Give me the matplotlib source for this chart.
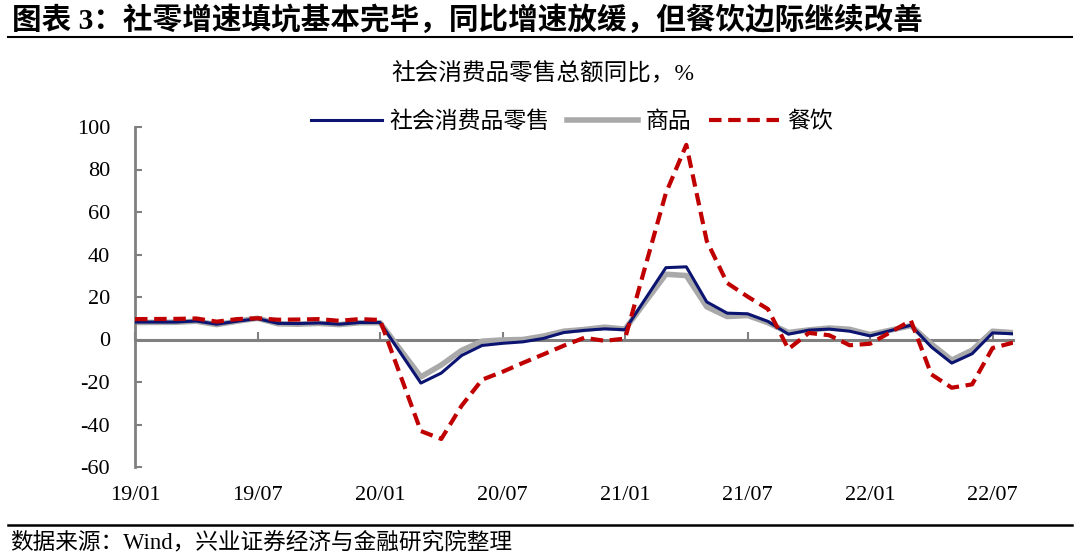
import numpy as np
import pandas as pd
import matplotlib
matplotlib.use("Agg")
import matplotlib.pyplot as plt
from matplotlib.lines import Line2D

plt.rcParams['font.family'] = ['Liberation Serif', 'Noto Sans CJK SC', 'DejaVu Sans']
plt.rcParams['axes.unicode_minus'] = False

# monthly data, Dec 2018 .. Jul 2022 (January folded into Jan-Feb, so NaN)
months = pd.period_range('2018-12', '2022-07', freq='M')

retail = [8.2,
          np.nan, 8.2, 8.7, 7.2, 8.6, 9.8, 7.6, 7.5, 7.8, 7.2, 8.0, 8.0,
          np.nan, -20.5, -15.8, -7.5, -2.8, -1.8, -1.1, 0.5, 3.3, 4.3, 5.0, 4.6,
          np.nan, 33.8, 34.2, 17.7, 12.4, 12.1, 8.5, 2.5, 4.4, 4.9, 3.9, 1.7,
          np.nan, 6.7, -3.5, -11.1, -6.7, 3.1, 2.7]
goods = [8.0,
         np.nan, 8.1, 8.6, 7.0, 8.6, 10.0, 7.4, 7.2, 7.6, 7.0, 7.9, 7.9,
         np.nan, -17.6, -12.0, -5.1, -0.8, -0.2, 0.0, 1.6, 3.9, 4.7, 5.8, 4.9,
         np.nan, 30.7, 30.1, 15.4, 10.8, 11.3, 7.9, 3.3, 4.5, 5.4, 4.8, 2.3,
         np.nan, 6.5, -2.1, -9.7, -5.0, 3.9, 3.2]
catering = [9.6,
            np.nan, 9.7, 9.9, 8.4, 9.6, 10.0, 9.3, 9.4, 9.6, 8.8, 9.6, 9.2,
            np.nan, -43.1, -46.8, -31.1, -18.9, -15.2, -11.0, -7.0, -2.9, 0.8, -0.6, 0.4,
            np.nan, 68.9, 91.6, 46.4, 26.6, 20.2, 14.3, -4.5, 3.1, 2.0, -2.7, -2.0,
            np.nan, 8.9, -16.4, -22.7, -21.1, -4.0, -1.5]

tick_labels = ['19/01', '19/07', '20/01', '20/07', '21/01', '21/07', '22/01', '22/07']
series_names = ['社会消费品零售', '商品', '餐饮']

x = np.arange(len(months))
fig = plt.figure(figsize=(10.8, 5.59), dpi=100)
ax = fig.add_axes([135 / 1080, 1 - 467 / 559, (1013 - 135) / 1080, (467 - 127) / 559])


def draw(values, **kw):
    vals = np.array(values, dtype=float)
    ok = ~np.isnan(vals)
    return ax.plot(x[ok], vals[ok], **kw)[0]


l_goods = draw(goods, color='#a9a9a9', lw=4.0, zorder=2, solid_joinstyle='round')
l_retail = draw(retail, color='#0b1470', lw=2.2, zorder=3)
l_cat = draw(catering, color='#c00000', lw=3.0, ls=(0, (3, 1.6)), zorder=4)

ax.set_xlim(0, len(months) - 1)
ax.set_ylim(-60, 100)
ax.set_yticks(range(-60, 101, 20))
ax.tick_params(axis='y', direction='in', length=5, width=1.5, color='#808080',
               labelsize=16, pad=18)
ax.set_xticks(x[::6], tick_labels)
ax.tick_params(axis='x', length=0, labelsize=16, pad=14)
for s in ['top', 'right', 'bottom']:
    ax.spines[s].set_visible(False)
ax.spines['left'].set_color('#808080')
ax.spines['left'].set_linewidth(2)

# zero line with upward ticks (labels stay at the bottom)
zero = ax.secondary_xaxis(0, transform=ax.transData)
zero.set_xticks(x[::6])
zero.tick_params(direction='in', length=6, width=1.5, color='#808080', labelbottom=False)
zero.spines['bottom'].set_color('#808080')
zero.spines['bottom'].set_linewidth(2.2)

fig.legend([l_retail, l_goods, l_cat], series_names, loc='center', ncol=3,
           bbox_to_anchor=(572 / 1080, 1 - 122 / 559), frameon=False, fontsize=16.5,
           handlelength=3.1, handletextpad=0.3, columnspacing=0.8)

fig.text(12 / 1080, 1 - 20 / 559, '图表 3：社零增速填坑基本完毕，同比增速放缓，但餐饮边际继续改善',
         fontsize=21.3, fontweight='bold', va='center', ha='left')
fig.add_artist(Line2D([8 / 1080, 1072 / 1080], [1 - 37 / 559] * 2, color='black', lw=1.5))
fig.text(543 / 1080, 1 - 73 / 559, '社会消费品零售总额同比，%', fontsize=17,
         va='center', ha='center')
fig.add_artist(Line2D([8 / 1080, 1072 / 1080], [1 - 525 / 559] * 2, color='black', lw=1.8))
fig.text(10 / 1080, 1 - 543 / 559, '数据来源：Wind，兴业证券经济与金融研究院整理',
         fontsize=16.3, va='center', ha='left')

fig.savefig('out.png', dpi=100)
